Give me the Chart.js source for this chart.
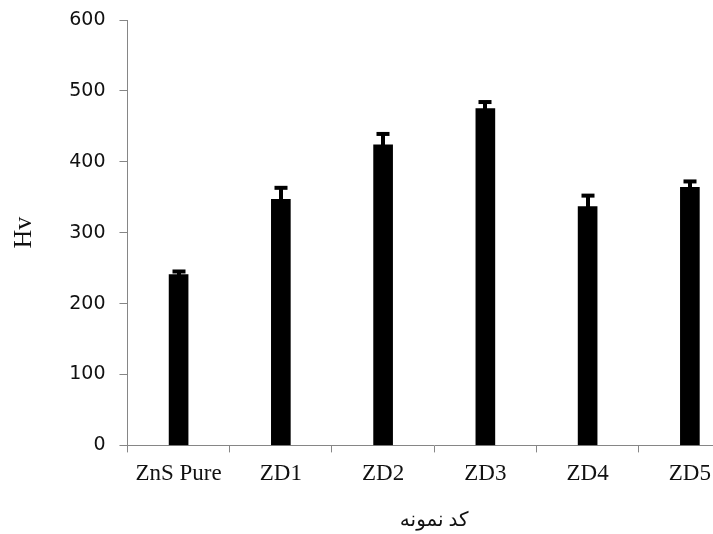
<!DOCTYPE html>
<html>
<head>
<meta charset="utf-8">
<script src="https://cdn.jsdelivr.net/npm/chart.js@4/dist/chart.umd.min.js"></script>
<style>
    html, body { margin: 0; padding: 0; background: #fff; overflow: hidden; }
    #wrap { width: 760px; height: 534px; position: relative; }
</style>
</head>
<body>
<div id="wrap"><canvas id="myChart"></canvas></div>
<script>
var categories = ["ZnS Pure", "ZD1", "ZD2", "ZD3", "ZD4", "ZD5"];
var hvValues = [241, 347, 424, 475, 337, 364];
var hvErrors = [5, 17, 16, 10, 16, 9];
var yTicks = [0, 100, 200, 300, 400, 500, 600];

var axisGray = "#868686";

// draws the error bars on top of each bar
var errorBars = {
    id: "errorBars",
    afterDatasetsDraw: function (chart) {
        var ctx = chart.ctx;
        var yScale = chart.scales.y;
        var meta = chart.getDatasetMeta(0);
        ctx.save();
        ctx.fillStyle = "#000";
        for (var i = 0; i < hvValues.length; i++) {
            var x = meta.data[i].x;
            var yTop = yScale.getPixelForValue(hvValues[i] + hvErrors[i]);
            var yLow = yScale.getPixelForValue(hvValues[i] - hvErrors[i]);
            ctx.fillRect(Math.round(x) - 2, yTop, 4, yLow - yTop);
            ctx.fillRect(Math.round(x) - 6.5, yTop - 1.5, 13, 4);
        }
        ctx.restore();
    }
};

var ctx = document.getElementById("myChart");

var myBarChart = new Chart(ctx, {
    type: "bar",
    data: {
        labels: categories,
        datasets: [{
            data: hvValues,
            backgroundColor: "#000",
            borderWidth: 0,
            barThickness: 19
        }]
    },
    options: {
        responsive: true,
        maintainAspectRatio: false,
        animation: false,
        devicePixelRatio: 1,
        layout: { padding: { left: 9, right: 19, top: 20, bottom: 1 } },
        plugins: {
            legend: { display: false },
            tooltip: { enabled: false }
        },
        scales: {
            x: {
                grid: {
                    offset: true,
                    drawOnChartArea: false,
                    drawTicks: true,
                    tickLength: 7,
                    color: axisGray
                },
                border: { color: axisGray, width: 1 },
                ticks: {
                    padding: 8,
                    color: "#111",
                    maxRotation: 0,
                    autoSkip: false,
                    font: { family: "'Liberation Serif', 'Times New Roman', serif", size: 23, lineHeight: 1.2 }
                },
                title: {
                    display: true,
                    text: "کد نمونه",
                    color: "#111",
                    padding: { top: 13, bottom: 0 },
                    font: { family: "'Liberation Serif', 'DejaVu Sans', serif", size: 20, lineHeight: 1.2 }
                }
            },
            y: {
                min: 0,
                max: 600,
                afterBuildTicks: function (scale) {
                    scale.ticks = yTicks.map(function (v) { return { value: v }; });
                },
                grid: {
                    drawOnChartArea: false,
                    drawTicks: true,
                    tickLength: 8,
                    color: axisGray
                },
                border: { color: axisGray, width: 1 },
                ticks: {
                    padding: 14,
                    color: "#111",
                    font: { family: "'DejaVu Sans', sans-serif", size: 19, lineHeight: 0.6 }
                },
                title: {
                    display: true,
                    text: "Hv",
                    color: "#111",
                    padding: { top: 0, bottom: 15 },
                    font: { family: "'Liberation Serif', 'Times New Roman', serif", size: 26, lineHeight: 1.2 }
                }
            }
        }
    },
    plugins: [errorBars]
});
</script>
</body>
</html>
